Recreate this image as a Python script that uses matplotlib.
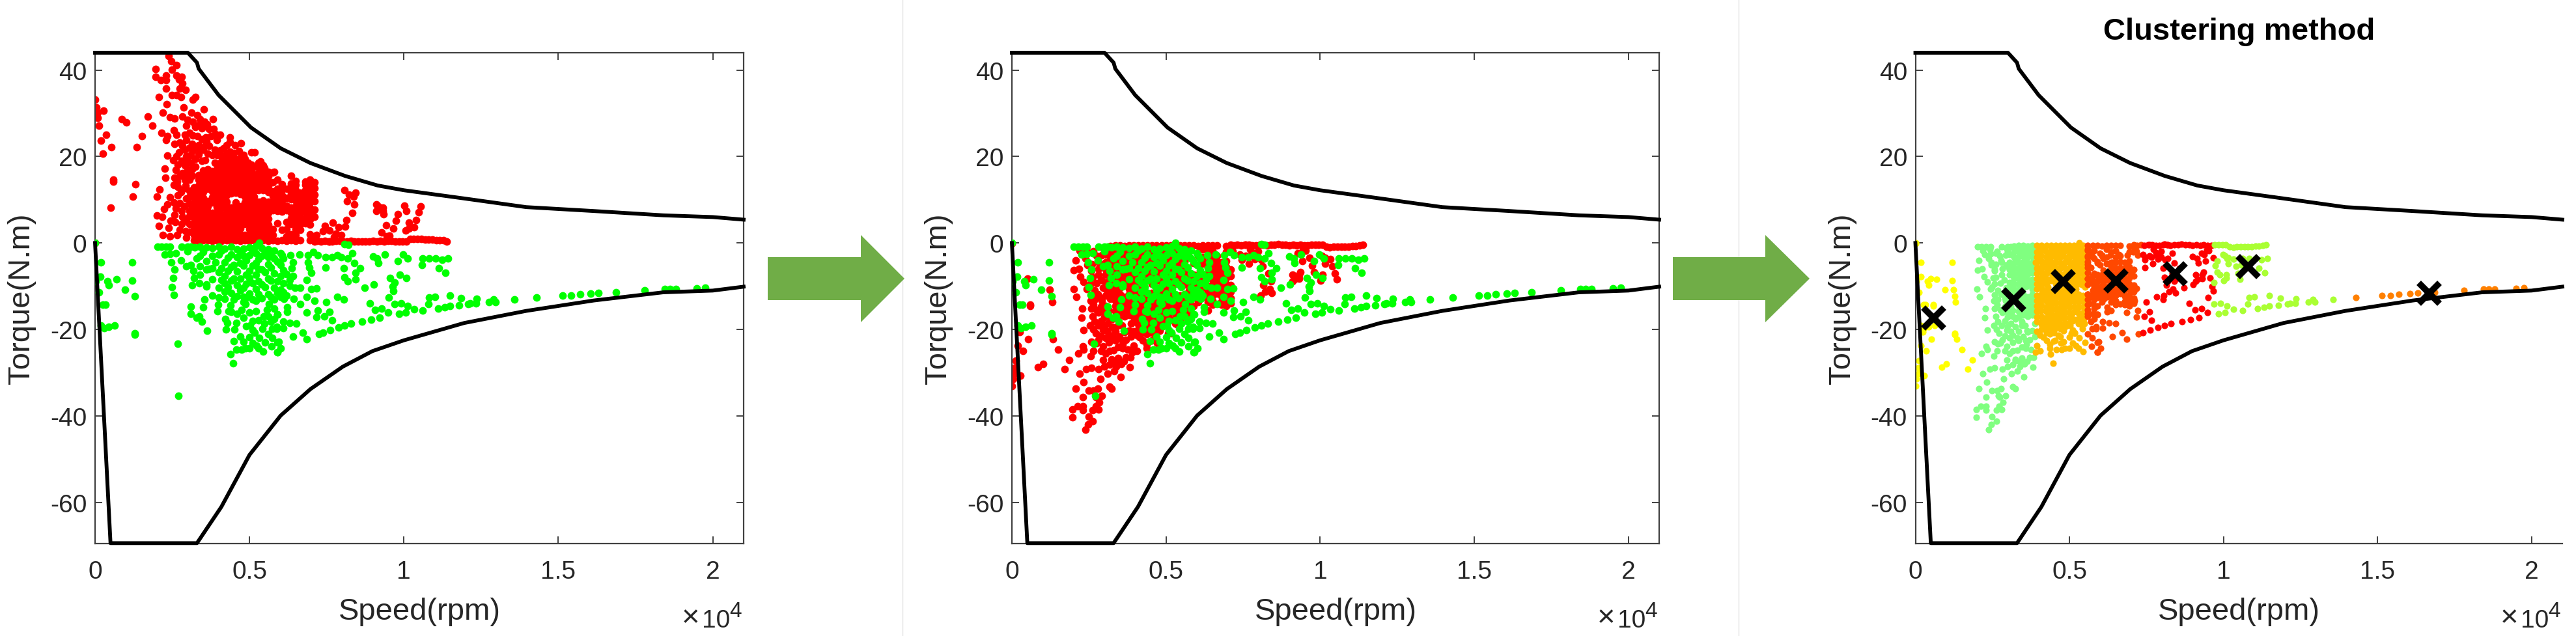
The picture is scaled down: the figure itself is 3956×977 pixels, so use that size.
import numpy as np
import matplotlib
matplotlib.use("Agg")
import matplotlib.pyplot as plt
from matplotlib.patches import Polygon

plt.rcParams['font.family'] = ['Liberation Sans', 'DejaVu Sans']

W, H = 3956, 978

upper_speed = [0, 3005, 3300, 3355, 4000, 5050, 6010, 6970, 8100, 9150, 10000, 11950, 13960, 16140, 18400, 20000, 21000]
upper_torque = [44, 44, 41.7, 40.3, 34.2, 26.7, 21.9, 18.5, 15.5, 13.3, 12.2, 10.3, 8.3, 7.4, 6.4, 6.0, 5.4]
lower_speed = [0, 500, 3300, 4090, 5000, 6010, 6970, 8020, 8980, 10000, 11950, 13960, 16140, 18400, 20000, 21000]
lower_torque = [0, -69.4, -69.4, -61, -49, -39.9, -33.8, -28.6, -25, -22.5, -18.5, -15.7, -13.3, -11.4, -11, -10.1]

red_points = [
    (0,33.1),(40,31.4),(280,30.6),(85,30.2),(85,28.9),(125,27.2),(855,28.7),(1010,27.9),(1710,29.2),(1850,27.1),
    (350,25),(180,23.7),(520,22.2),(250,20.6),(1510,24.7),(1340,22.2),(590,14.6),(590,14.2),(1300,13.6),(1230,10.8),
    (505,8.2),(0,0.1),(2380,43.2),(2470,42),(2625,41.2),(1970,40.3),(2485,40.1),(1970,38.5),(2130,37.7),(2295,38.7),
    (2295,37.7),(2625,38.7),(2810,38.5),(2715,37.8),(2835,36.9),(2735,35.7),(2925,35.4),(2295,35.7),(2485,34.2),(2645,34.2),
    (2785,33.7),(2065,33.7),(3160,33.2),(3240,33.7),(2315,32.1),(2870,31.4),(2190,30.2),(2415,29.1),(2575,28.8),(2820,29.2),
    (3115,30.2),(3520,30.9),(3310,29.6),(3385,28.6),(3820,28.7),(3170,28.1),(2960,27.1),(3630,27.4),(3840,26.4),(3240,26.9),
    (3450,26.6),(3700,26.4),(2145,25.5),(2330,24.7),(2295,23.9),(2555,26.1),(2645,25),(3160,24.9),(4050,25),(3945,23.8),
    (3590,24.4),(4365,24.4),(4365,23.4),(4715,23.1),(4540,22.6),(2960,23.9),(2575,22.9),(2820,22.4),(3350,22.6),(3590,22.6),
    (3490,21.6),(3875,21.6),(4050,21.4),(4365,21.1),(5065,20.9),(5170,20.9),(2715,20.9),(2330,20.2),(3170,21.4),(2540,19.1),
    (2960,20.1),(2680,18.1),(3100,18.6),(3560,19.1),(3875,18.6),(4225,19.6),(4505,19.6),(4820,19.1),(5350,18.8),(2260,17.2),
    (3000,17.1),(5490,17.3),(5800,16.4),(5065,16.8),(2275,15.1),(2575,15.1),(2820,16.1),(2190,1.8),(2415,1.5),(2380,3.5),
    (2065,4),(2455,5.1),(2575,6.5),(2010,6.3),(2175,6),(2225,7.8),(2330,9),(2435,10.6),(2680,11),(2000,10.7),
    (2090,12.4),(2680,13),(2925,13.3),(2785,11.8),(2745,3),(2925,2.8),(2820,6),(2890,8.5),
    (8070,12.2),(8225,11.2),(8435,11.6),(8365,10.7),(8155,9.7),(8400,8.9),(8330,7),(8135,5.3),(8100,3.8),
    (7450,3.9),(7700,4.7),(7875,3.7),(7590,2.9),(7385,2.7),(7805,2.2),(7980,1.9),(7590,0.4),(7735,1.4),(7170,1.9),
    (9100,8.9),(9170,8.4),(9315,8.2),(9100,7.4),(9315,7.4),(9350,6.7),(9805,6.7),(9735,5.2),(9420,4.1),(9665,3.4),
    (9280,2.4),(9525,1.7),(9450,1.6),(10015,8.7),(10085,7.4),(10540,8.4),(10470,7.1),(10400,5.3),(10155,4.7),(10330,3.7),
    (10155,3.4),(10050,2.9),
    (2640,20),(2800,19),(2900,18),(3000,19.2),(3100,20.4),(3250,19.4),(3350,20.5),(3450,19),(3300,22),(3150,23),
    (3050,22),(2900,21.5),(2750,23.2),(2900,25),(3050,25.5),(3300,24.8),(3450,24),(3600,23.5),(3750,24.7),(3900,25.2),
    (3250,27.2),(3400,27.5),(3550,28),(3000,28.5),(3700,22.4),(3800,20.3),(3650,20.6),(3950,20.4),(4100,20),(4150,21.8),
    (4250,22.6),(4250,20.7),(4500,20.8),(4650,21.3),(2620,16.9),(2750,15.5),(2900,14.7),(3000,16),(3050,14.6),(3150,15.6),
    (3250,17.6),(3150,17),(2650,14.2),(2550,13.4),(2900,12.7),(4800,20.3),(4950,18.6),(5050,18.1),(5200,17.7),(5450,18),
    (5600,16.4),(5500,15.5),(5900,14.6),(6050,13.6),(5750,14),(6230,12.5),
    (2750,9.3),(2620,8),(2950,10.3),(2800,4.4),(2650,1.9),(2950,1.2),(2800,7.4),(2950,5.1),(2600,4.9),(2560,9.4),
]

red_block_speed = [3050, 3200, 3350, 3500, 3650, 3800, 3950, 4100, 4250, 4400, 4550, 4700, 4850, 5000,
                   5150, 5300, 5450, 5600, 5750, 5900, 6050, 6200, 6350, 6500, 6650, 6800, 6950, 7100]
red_block_torque = [
    [2.6,4.4,6.2,7.4,9.1,10.7,12.1],
    [0.7,1.9,3.2,4.6,5.7,7.0,8.2,9.4,10.6,11.7,12.9],
    [0.5,2.0,3.1,4.4,5.9,7.1,8.3,9.6,10.9,12.2,13.3,14.6,15.7],
    [0.6,1.6,3.0,4.3,5.5,6.8,8.0,9.3,10.4,11.8,13.0,14.3,15.4,16.7],
    [0.7,2.1,3.3,4.7,5.9,7.2,8.5,9.7,12.5,13.6,14.7,15.9,17.0],
    [0.5,1.8,3.1,4.4,5.6,6.9,9.4,10.6,11.9,13.0,14.4,15.5,16.6],
    [0.6,2.0,3.2,4.5,5.8,7.0,8.3,9.5,10.7,12.1,13.3,14.6,15.8,17.1,18.2],
    [0.5,1.7,3.0,4.2,5.5,6.7,8.1,9.3,10.5,11.8,13.2,14.4,15.6,16.9,18.3,18.8],
    [0.6,2.1,3.3,4.6,5.9,7.1,8.4,9.6,11.0,12.2,13.5,14.8,15.9,17.2,18.5,19.4],
    [0.5,1.8,3.0,4.3,5.7,6.9,8.2,11.5,12.7,13.9,15.1,16.3,17.5,18.7,19.6],
    [0.6,1.9,3.2,4.5,5.8,7.1,8.4,9.4,11.6,12.8,14.0,15.2,16.6,17.8,18.9],
    [0.5,2.0,3.3,4.6,5.9,7.2,8.5,11.4,12.6,13.8,15.0,16.2,17.4,18.6,19.8],
    [0.6,1.8,4.4,5.7,7.0,8.3,9.4,10.7,12.0,13.3,14.6,15.9,17.2,18.5,19.4],
    [0.5,1.9,3.2,4.5,5.8,7.1,8.4,9.7,11.0,12.3,13.6,14.9,16.2,17.3],
    [0.6,1.7,3.0,4.3,5.6,6.9,8.2,9.5,10.8,12.1,13.4,14.7,15.9],
    [0.5,1.8,3.1,4.4,5.7,7.0,8.3,9.5,12.3,13.6,14.9,16.2,17.5,18.6],
    [0.6,2.0,3.3,4.6,5.9,7.2,8.5,9.8,12.2,13.4,14.7,16.0,17.2],
    [0.5,1.7,3.0,4.3,5.6,6.9,8.3,9.6,11.8,13.1,14.2,15.4],
    [0.6,1.9,3.2,7.6,8.8,9.5,10.9,12.0,16.3],
    [0.5,4.6,7.4,8.7,10.0,11.1,12.6],
    [0.7,3.0,7.3,8.6,9.9,11.0,12.2],
    [0.5,1.5,3.2,4.8,7.5,8.6,10.4],
    [0.6,2.0,4.4,5.7,7.0,8.2,10.1,11.3,12.5,13.7,15.6],
    [0.5,1.8,3.2,4.5,5.9,7.2,8.5,9.8,11.0,12.2,13.4,14.3],
    [0.6,3.0,4.3,5.6,6.9,8.2,9.5,10.8,11.7],
    [4.5,5.8,7.1,8.4,9.7,11.0,12.3,13.5,14.2],
    [0.7,2.0,4.2,5.5,6.8,8.1,9.4,10.7,12.0,13.3,14.6],
    [1.0,0.4,6.1,7.7,9.7,11.2,12.7,14.0],
]

red_line_speed = [7200,7320,7440,7560,7680,7800,7920,8040,8160,8280,8400,8520,8640,8760,8880,9000,9120,9240,9360,9480,
                  9600,9720,9840,9960,10080,10200,10320,10440,10560,10680,10800,10920,11040,11160,11280,11385]
red_line_torque = [0.5,0.4,0.5,0.4,0.4,0.5,0.5,0.4,0.4,0.5,0.4,0.4,0.3,0.4,0.4,0.5,0.4,0.5,0.4,0.5,
                   0.5,0.4,0.4,0.4,0.4,0.9,1.0,0.9,0.9,0.8,0.8,0.8,0.7,0.7,0.6,0.4]

green_points = [
    (0,0),(190,-4.4),(1195,-4.5),(170,-7.8),(695,-8.4),(1195,-8.7),(400,-8.8),(435,-9.8),(960,-10.8),(120,-11.4),
    (30,-8.9),(1280,-12.3),(260,-14.3),(330,-14.3),(190,-19.1),(295,-19.7),(435,-19.4),(625,-19),(1280,-20.9),(1280,-21.2),
    (2670,-23.3),(2700,-35.4),(2015,-0.85),(2155,-0.85),(2295,-0.85),(2435,-0.85),(2810,-0.85),(3000,-0.85),(3100,-0.85),(3230,-1),
    (2260,-2.6),(2435,-2.5),(2610,-2.4),(2470,-4.4),(2785,-4),(2575,-6.1),(2525,-8.1),(2490,-10.2),(2560,-12),(2960,-5.4),
    (3100,-5.1),(3290,-3.5),(3175,-6.4),(3210,-8.1),(3140,-9.8),(3370,-9.3),(3595,-10.1),(3000,-1.9),(3540,-13.1),(3500,-14.9),
    (3100,-14.7),(3100,-16.4),(3280,-17.2),(3370,-17),(3455,-18.2),(3630,-20.3),(3995,-14.3),(3960,-15.7),(4390,-14.4),(4330,-15.8),
    (4225,-17.5),(4280,-18.4),(4240,-20),(4520,-20),(4575,-18.5),(5020,-19.1),(4700,-21.6),(4485,-22.7),(4575,-24.7),(4750,-24.7),
    (4390,-25.7),(4470,-27.8),(5000,-24.4),(4860,-24.3),(5100,-23.2),(5220,-23.8),(5440,-25.1),(5715,-23.9),(5900,-25.2),(5910,-23),
    (5170,-20.7),(5315,-21.9),(5420,-19.9),(5490,-18.6),(5700,-18.2),(5735,-19.9),(5735,-21.9),(5875,-19.4),(5900,-16.5),(5455,-16.9),
    (5560,-15.4),(4750,-15.5),(4860,-14.1),(5630,-14.1),(5310,0),(8085,-0.2),(8200,-0.4),
    (6050,-2.85),(6330,-2.75),(6610,-2.6),(6890,-2.75),(7070,-2.1),(7210,-2.85),(7455,-3.3),(7665,-3.3),(7840,-2.85),(7980,-3.3),
    (8190,-3.6),(8330,-2.35),(6400,-4.4),(6365,-5.9),(6400,-7.6),(6295,-8.6),(6295,-9.9),(6470,-10.4),(6650,-10.4),(6890,-4.4),
    (6930,-5.6),(7000,-6.9),(6860,-8.6),(7175,-10.5),(7000,-10.6),(6860,-12.4),(7455,-5.6),(8050,-5.9),(8085,-7.9),(8190,-8.9),
    (8400,-4.6),(8580,-5.9),(8440,-6.9),(8440,-8.4),(9000,-3.1),(9140,-3.6),(9385,-2.6),(9175,-4.6),(9980,-2.6),(9805,-4.1),
    (10120,-3.6),(10615,-3.6),(10580,-5.1),(10825,-3.6),(11035,-3.6),(11245,-3.9),(11420,-3.6),(11140,-5.9),(11340,-6.9),(8720,-10.4),
    (9020,-9.6),(9560,-8.1),(9700,-9.1),(9875,-7.4),(10085,-8.1),(9630,-10.1),(9665,-11.1),(7840,-12.5),(8050,-13),(7105,-13.4),
    (7490,-13.6),(6650,-14.1),(6435,-12.9),(6120,-12.9),(6225,-14.9),(5910,-16.5),(6860,-16.1),(7210,-15.6),(7175,-17.1),(7420,-16.9),
    (7595,-15.9),(7665,-17.9),(8895,-13.9),(9505,-12.6),(9070,-15.4),(9280,-15.1),(9490,-16.1),(9700,-14.1),(9910,-13.9),(9840,-16.4),
    (10050,-16.1),(10120,-14.6),(10335,-15.3),(10615,-15.6),(10790,-14.1),(10825,-12.6),(11000,-12.5),(11105,-15.1),(11315,-14.9),(11490,-14.6),
    (11490,-12.1),(11840,-12.8),(11790,-14.4),(12090,-14.1),(8650,-18.1),(8930,-17.7),(9210,-17.3),(8295,-18.6),(8085,-19.1),(7875,-19.5),
    (7610,-20.2),(7385,-20.7),(7245,-21),(6860,-22.2),(6720,-20.7),(6400,-21.7),(6505,-18.6),(6295,-18.4),(6085,-18.2),(6085,-19.7),
    (5875,-19.9),(5945,-22.9),(6015,-24.4),(5910,-25.2),(6225,-15.9),(12155,-14),(12330,-13.9),(12365,-12.9),(12750,-13.6),(12910,-13.1),
    (12960,-13.6),(13570,-13),(14295,-12.6),(15140,-12.2),(15420,-12.1),(15700,-11.9),(16050,-11.7),(16300,-11.6),(16860,-11.4),(17805,-11),
    (18440,-10.7),(18610,-10.7),(18810,-10.7),(19490,-10.5),(19750,-10.4),
    (3500,-2),(3700,-6),(3900,-4.4),(4100,-1.8),(4100,-5.9),(4100,-8.6),(4300,-3.4),(4300,-6.4),(4300,-10.2),(4500,-5),
    (4500,-8.3),(4500,-13),(4700,-2.2),(4700,-4.6),(4700,-8.2),(4700,-11),(4900,-4),(4900,-7.3),(4900,-9.4),(4900,-12.6),
    (5100,-1.8),(5100,-5.2),(5100,-9.3),(5100,-13),(5300,-3.7),(5300,-6),(5300,-8.8),(5300,-11.9),(5500,-1.9),(5500,-6.8),
    (5500,-10.2),(5700,-2.3),(5700,-5.6),(5700,-8.7),(5700,-12.4),(5900,-4.3),(5900,-8.8),(5900,-11.6),(6100,-3.6),(6100,-6.3),
    (6100,-9.3),(6100,-11.4),(6200,-7.2),(6200,-12.1),(3800,-12.1),(4000,-12.6),(4200,-12.9),(4400,-15.9),(4600,-16.4),(4800,-17.2),
    (5000,-16.1),(5100,-18),(5300,-17.8),(5200,-15.7),(5600,-17),(5800,-15.1),(5800,-17.6),(5600,-21),(5500,-23),(5300,-24.4),
    (5000,-21.8),(4800,-22.9),(5100,-20.2),(4900,-19.2),
]

green_block_speed = [3400, 3600, 3800, 4000, 4200, 4400, 4600, 4800, 5000, 5200, 5400, 5600, 5800, 6000]
green_block_torque = [
    [-0.9,-2.9,-5.4,-7.4],
    [-1.0,-4.1,-6.2,-9.6],
    [-1.2,-3.0,-5.9,-8.4],
    [-0.9,-2.6,-6.8,-10.4],
    [-1.3,-4.5,-7.6,-9.3,-11.3],
    [-0.9,-2.7,-5.5,-8.7,-11.5],
    [-1.4,-3.3,-6.6,-9.8,-12.3],
    [-1.3,-3.0,-5.2,-10.4,-12.4,-13.7],
    [-1.0,-2.8,-6.4,-8.1,-11.7],
    [-0.7,-2.4,-4.6,-7.4,-10.7,-13.4],
    [-1.2,-2.9,-6.2,-9.6,-12.8],
    [-1.4,-3.2,-4.9,-8.3,-11.9],
    [-1.8,-3.5,-7.1,-10.3,-13.1],
    [-2.4,-5.0,-7.6,-10.8,-12.4],
]

centroid_speed = [580, 3180, 4780, 6500, 8430, 10790, 16660]
centroid_torque = [-17.2, -13.1, -8.9, -8.7, -7.0, -5.3, -11.5]
cluster_edges = [1900, 3900, 5570, 7380, 9670, 14000]
cluster_colors = ['#FFFF00', '#80FF80', '#FFBB00', '#FF4800', '#FF0000', '#AAFF33', '#FF8000']

x_ticks = [0, 5000, 10000, 15000, 20000]
x_tick_labels = ['0', '0.5', '1', '1.5', '2']
y_ticks = [-60, -40, -20, 0, 20, 40]
y_tick_labels = ['-60', '-40', '-20', '0', '20', '40']
panel_lefts = [146, 1554, 2941.5]
panel_rights = [1142, 2548, 3935]


def expand(points, col_speed, col_torque, line_speed=(), line_torque=()):
    s = [p[0] for p in points]
    t = [p[1] for p in points]
    for sp, ts in zip(col_speed, col_torque):
        s += [sp] * len(ts)
        t += list(ts)
    s += list(line_speed)
    t += list(line_torque)
    return np.array(s, float), np.array(t, float)


red_s, red_t = expand(red_points, red_block_speed, red_block_torque, red_line_speed, red_line_torque)
green_s, green_t = expand(green_points, green_block_speed, green_block_torque)

fig = plt.figure(figsize=(W / 100, H / 100), dpi=100, facecolor='white')
TOP, BOTTOM = 82, 836
TXT = '#262626'
SP = '#404040'


def make_axes(i, full_box=True):
    l, r = panel_lefts[i], panel_rights[i]
    ax = fig.add_axes([l / W, 1 - BOTTOM / H, (r - l) / W, (BOTTOM - TOP) / H])
    ax.set_xlim(0, 21000)
    ax.set_ylim(-69.5, 44)
    ax.set_xticks(x_ticks, x_tick_labels)
    ax.set_yticks(y_ticks, y_tick_labels)
    ax.tick_params(axis='both', direction='in', length=8, width=1.4, color=SP,
                   labelsize=28, labelcolor=TXT, top=full_box, right=full_box)
    ax.tick_params(axis='x', pad=18)
    ax.tick_params(axis='y', pad=9)
    for name, sp in ax.spines.items():
        sp.set_color(SP)
        sp.set_linewidth(1.6)
    if not full_box:
        ax.spines['top'].set_visible(False)
        ax.spines['right'].set_visible(False)
    ax.plot(upper_speed, upper_torque, color='black', lw=4.2, clip_on=False, zorder=5)
    ax.plot(lower_speed, lower_torque, color='black', lw=4.2, clip_on=False, zorder=5)
    fig.text((l + r) / 2 / W, 1 - 940 / H, 'Speed(rpm)', fontsize=34, color=TXT, ha='center', va='center')
    fig.text((l - 113) / W, 1 - 459 / H, 'Torque(N.m)', fontsize=34, color=TXT, rotation=90, ha='center', va='center')
    fig.text((r - 95) / W, 1 - 962 / H, '\u00d7', fontsize=34, color=TXT, ha='left', va='baseline')
    fig.text((r - 64) / W, 1 - 964 / H, '10', fontsize=28, color=TXT, ha='left', va='baseline')
    fig.text((r - 22) / W, 1 - 948 / H, '4', fontsize=24, color=TXT, ha='left', va='baseline')
    return ax


S_BIG, S_SMALL = 72, 54

ax1 = make_axes(0)
ax1.scatter(red_s, red_t, s=S_BIG, c='#FF0000', linewidths=0, zorder=2)
ax1.scatter(green_s, green_t, s=S_BIG, c='#00FF00', linewidths=0, zorder=3)

ax2 = make_axes(1)
ax2.scatter(red_s, -red_t, s=S_BIG, c='#FF0000', linewidths=0, zorder=2)
ax2.scatter(green_s, green_t, s=S_BIG, c='#00FF00', linewidths=0, zorder=3)

ax3 = make_axes(2, full_box=False)
all_s = np.concatenate([red_s, green_s])
all_t = np.concatenate([-red_t, green_t])
labels = np.digitize(all_s, cluster_edges)
for k, col in enumerate(cluster_colors):
    m = labels == k
    ax3.scatter(all_s[m], all_t[m], s=S_SMALL, c=col, linewidths=0, zorder=2)
ax3.scatter(centroid_speed, centroid_torque, marker='x', s=530, c='black', linewidths=7, zorder=6)
fig.text(3439 / W, 1 - 49 / H, 'Clustering method', fontsize=34, fontweight='bold', color='black', ha='center', va='center')

for xs in (1386, 2670):
    fig.add_artist(plt.Line2D([xs / W, xs / W], [0, 1], transform=fig.transFigure, color='#E4E4E4', lw=1.0))


def arrow(x0, x_head, x_tip):
    y_mid, hs, hh = 429, 33, 67
    pts = [(x0, y_mid - hs), (x_head, y_mid - hs), (x_head, y_mid - hh), (x_tip, y_mid),
           (x_head, y_mid + hh), (x_head, y_mid + hs), (x0, y_mid + hs)]
    fig.add_artist(Polygon([(x / W, 1 - y / H) for x, y in pts], closed=True, transform=fig.transFigure,
                           facecolor='#70AD47', edgecolor='none', zorder=10))


arrow(1179, 1322, 1389)
arrow(2569, 2711, 2779)

fig.savefig('out.png', dpi=100, facecolor='white')
